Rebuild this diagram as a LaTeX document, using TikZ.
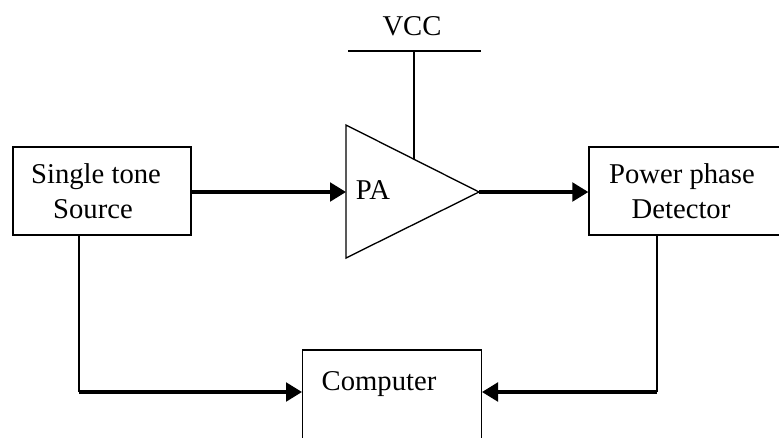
\documentclass[tikz,border=0pt]{standalone}
\usepackage{fontspec}
\setmainfont{Liberation Serif}
\usetikzlibrary{arrows.meta}
\tikzset{
    blockbox/.style={draw, rectangle, line width=1pt, inner sep=0pt},
    blocktext/.style={anchor=base, inner sep=0pt, font=\fontsize{21.5}{24}\selectfont},
    thinline/.style={line width=1pt},
    sigline/.style={line width=2.4pt, -{Triangle[length=12pt,width=14pt]}}
}
\begin{document}
\begin{tikzpicture}[x=0.75pt, y=-0.75pt]
    % 画面范围
    \useasboundingbox (0, 0) rectangle (779, 437);
    \clip (0, 0) rectangle (779, 437);

    % 方框
    \node[blockbox, minimum width=133.5pt, minimum height=66pt] (source) at (102, 191) {};
    \node[blockbox, minimum width=150pt, minimum height=66pt] (detector) at (689, 191) {};
    \node[blockbox, minimum width=134pt, minimum height=82.5pt] (computer) at (392, 405) {};

    % 放大器
    \coordinate (patop) at (346, 125);
    \coordinate (pabottom) at (346, 258);
    \coordinate (paout) at (479, 192);
    \coordinate (pain) at (346, 192);
    \coordinate (pasupply) at (414, 159);
    \draw[thinline] (patop) -- (paout) -- (pabottom) -- cycle;

    % 电源
    \coordinate (vccleft) at (348, 51);
    \coordinate (vccright) at (481, 51);
    \coordinate (vcctap) at (414, 51);
    \draw[thinline] (vccleft) -- (vccright);
    \draw[thinline] (vcctap) -- (pasupply);

    % 信号连线
    \coordinate (sourcedown) at (79, 235);
    \coordinate (sourcebend) at (79, 392);
    \coordinate (detectordown) at (657, 235);
    \coordinate (detectorbend) at (657, 392);
    \draw[sigline] (source.east |- pain) -- (pain);
    \draw[sigline] (paout) -- (detector.west |- paout);
    \draw[thinline] (sourcedown) -- (sourcebend);
    \draw[sigline] (sourcebend) -- (computer.west |- sourcebend);
    \draw[thinline] (detectordown) -- (detectorbend);
    \draw[sigline] (detectorbend) -- (computer.east |- detectorbend);

    % 文字
    \node[blocktext] (vcc) at (412, 35) {VCC};
    \node[blocktext] (pa) at (373, 199) {PA};
    \node[blocktext] (sourcea) at (96, 183) {Single tone};
    \node[blocktext] (sourceb) at (93, 218) {Source};
    \node[blocktext] (detectora) at (682, 183) {Power phase};
    \node[blocktext] (detectorb) at (681, 218) {Detector};
    \node[blocktext] (comp) at (379, 390) {Computer};
\end{tikzpicture}
\end{document}
